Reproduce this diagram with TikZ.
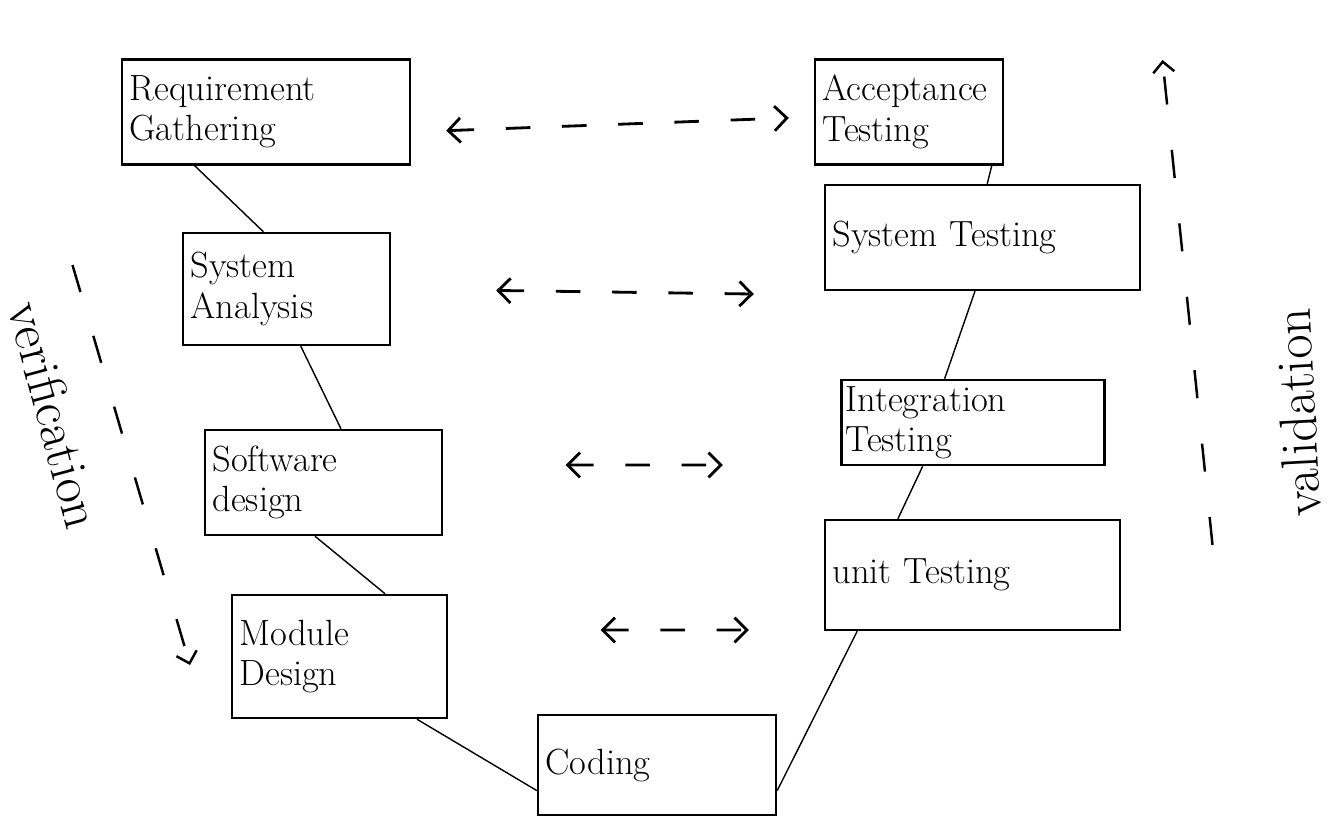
\documentclass[tikz,border=0pt]{standalone}
\usetikzlibrary{shapes,arrows,arrows.meta}
\begin{document}
\begin{tikzpicture}[auto,
  box/.style={rectangle, draw=black, line width=1.4pt, fill=white, align=left, inner sep=0.15cm, font=\fontsize{20.74}{23}\selectfont, anchor=center},
  line/.style={draw, line width=0.8pt},
  link/.style={draw, line width=1.6pt, dash pattern=on 14pt off 18pt, {Straight Barb[length=7pt,width=14pt]}-{Straight Barb[length=7pt,width=14pt]}},
  track/.style={draw, line width=1.4pt, dash pattern=on 16pt off 26pt, -{Straight Barb[length=6pt,width=12pt]}},
  side/.style={inner sep=0pt, font=\fontsize{30}{36}\selectfont}]
\useasboundingbox (0,0) rectangle (26.62,-16.72);
% left arm of the V
\node [box, text width=5.46cm, minimum height=2.1cm] (req) at (5.32,-2.24) {Requirement\\Gathering};
\node [box, text width=3.84cm, minimum height=2.24cm] (sysA) at (5.73,-5.78) {System\\Analysis};
\node [box, text width=4.44cm, minimum height=2.1cm] (soft) at (6.47,-9.65) {Software\\design};
\node [box, text width=4.0cm, minimum height=2.46cm] (mod) at (6.79,-13.13) {Module\\Design};
% bottom
\node [box, text width=4.46cm, minimum height=2.0cm] (code) at (13.14,-15.3) {Coding};
% right arm of the V
\node [box, text width=5.6cm, minimum height=2.2cm] (unit) at (19.45,-11.5) {unit Testing};
\node [box, text width=5.1cm, minimum height=1.7cm, inner sep=0.08cm] (integ) at (19.46,-8.45) {Integration\\Testing};
\node [box, text width=6.0cm, minimum height=2.1cm] (sysT) at (19.65,-4.75) {System Testing};
\node [box, text width=3.46cm, minimum height=2.1cm] (acc) at (18.18,-2.24) {Acceptance\\Testing};

% side labels
\node [side, rotate=-75] (verif) at (1.1,-8.3) {verification};
\node [side, rotate=93] (valid) at (25.95,-8.25) {validation};
\coordinate (vtop) at (1.45,-5.3);
\coordinate (vbot) at (3.8,-13.3);
\coordinate (wbot) at (24.25,-10.9);
\coordinate (wtop) at (23.25,-1.2);

\begin{scope}[every path/.style=line]
  \path (req.217) -- (sysA.112);
  \path (sysA.-76) -- (soft.72);
  \path (soft.-99) -- (mod.54);
  \path (mod.-39) -- (code.192);
  \path (code.-12) -- (unit.206);
  \path (unit.143) -- (integ.221);
  \path (integ.123) -- (sysT.262);
  \path (sysT.85) -- (acc.-33);
\end{scope}

\path [link, shorten <=0.7cm, shorten >=0.5cm] ([yshift=-0.4cm]req.east) -- ([yshift=-0.1cm]acc.west);
\path [link, shorten <=2.1cm, shorten >=1.4cm] (sysA.east) -- ([yshift=-1.15cm]sysT.west);
\path [link, shorten <=2.45cm, shorten >=2.35cm] ([yshift=0.35cm]soft.east) -- ([yshift=-0.85cm]integ.west);
\path [link, shorten <=3.05cm, shorten >=1.5cm] ([yshift=0.53cm]mod.east) -- ([yshift=-1.1cm]unit.west);

\path [track] (vtop) -- (vbot);
\path [track] (wbot) -- (wtop);
\end{tikzpicture}
\end{document}
